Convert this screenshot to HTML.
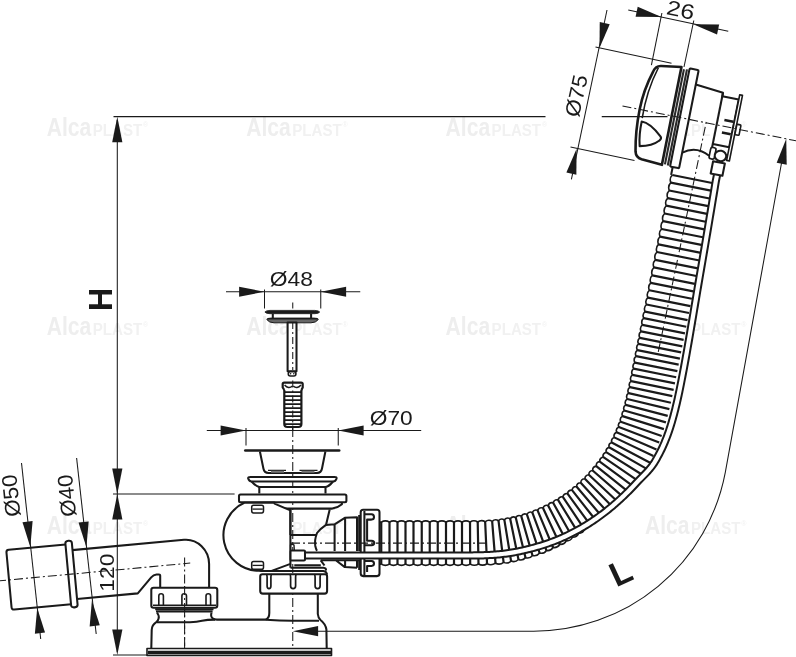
<!DOCTYPE html>
<html><head><meta charset="utf-8"><title>Bath waste drawing</title>
<style>html,body{margin:0;padding:0;background:#fff}svg{display:block;will-change:transform}text{font-family:"Liberation Sans",Arial,Helvetica,sans-serif}</style>
</head><body>
<svg width="796" height="657" viewBox="0 0 796 657" stroke="#1a1a1a" fill="none" stroke-linecap="butt" stroke-linejoin="round">
<rect x="0" y="0" width="796" height="657" fill="#fff" stroke="none"/>
<g stroke="none"><text x="46.8" y="135.9" font-size="25" font-weight="bold" textLength="44.5" lengthAdjust="spacingAndGlyphs" fill="#eeeeee">Alca</text><text x="92.8" y="135.9" font-size="16" textLength="49.5" lengthAdjust="spacingAndGlyphs" fill="#f1f1f1" font-weight="bold">PLAST</text><text x="143.1" y="127.4" font-size="7" fill="#f1f1f1">®</text></g>
<g stroke="none"><text x="246.2" y="135.9" font-size="25" font-weight="bold" textLength="44.5" lengthAdjust="spacingAndGlyphs" fill="#eeeeee">Alca</text><text x="292.2" y="135.9" font-size="16" textLength="49.5" lengthAdjust="spacingAndGlyphs" fill="#f1f1f1" font-weight="bold">PLAST</text><text x="342.5" y="127.4" font-size="7" fill="#f1f1f1">®</text></g>
<g stroke="none"><text x="445.6" y="135.9" font-size="25" font-weight="bold" textLength="44.5" lengthAdjust="spacingAndGlyphs" fill="#eeeeee">Alca</text><text x="491.6" y="135.9" font-size="16" textLength="49.5" lengthAdjust="spacingAndGlyphs" fill="#f1f1f1" font-weight="bold">PLAST</text><text x="541.9" y="127.4" font-size="7" fill="#f1f1f1">®</text></g>
<g stroke="none"><text x="645.0" y="135.9" font-size="25" font-weight="bold" textLength="44.5" lengthAdjust="spacingAndGlyphs" fill="#eeeeee">Alca</text><text x="691.0" y="135.9" font-size="16" textLength="49.5" lengthAdjust="spacingAndGlyphs" fill="#f1f1f1" font-weight="bold">PLAST</text><text x="741.3" y="127.4" font-size="7" fill="#f1f1f1">®</text></g>
<g stroke="none"><text x="46.8" y="335.1" font-size="25" font-weight="bold" textLength="44.5" lengthAdjust="spacingAndGlyphs" fill="#eeeeee">Alca</text><text x="92.8" y="335.1" font-size="16" textLength="49.5" lengthAdjust="spacingAndGlyphs" fill="#f1f1f1" font-weight="bold">PLAST</text><text x="143.1" y="326.6" font-size="7" fill="#f1f1f1">®</text></g>
<g stroke="none"><text x="246.2" y="335.1" font-size="25" font-weight="bold" textLength="44.5" lengthAdjust="spacingAndGlyphs" fill="#eeeeee">Alca</text><text x="292.2" y="335.1" font-size="16" textLength="49.5" lengthAdjust="spacingAndGlyphs" fill="#f1f1f1" font-weight="bold">PLAST</text><text x="342.5" y="326.6" font-size="7" fill="#f1f1f1">®</text></g>
<g stroke="none"><text x="445.6" y="335.1" font-size="25" font-weight="bold" textLength="44.5" lengthAdjust="spacingAndGlyphs" fill="#eeeeee">Alca</text><text x="491.6" y="335.1" font-size="16" textLength="49.5" lengthAdjust="spacingAndGlyphs" fill="#f1f1f1" font-weight="bold">PLAST</text><text x="541.9" y="326.6" font-size="7" fill="#f1f1f1">®</text></g>
<g stroke="none"><text x="645.0" y="335.1" font-size="25" font-weight="bold" textLength="44.5" lengthAdjust="spacingAndGlyphs" fill="#eeeeee">Alca</text><text x="691.0" y="335.1" font-size="16" textLength="49.5" lengthAdjust="spacingAndGlyphs" fill="#f1f1f1" font-weight="bold">PLAST</text><text x="741.3" y="326.6" font-size="7" fill="#f1f1f1">®</text></g>
<g stroke="none"><text x="46.8" y="534.3" font-size="25" font-weight="bold" textLength="44.5" lengthAdjust="spacingAndGlyphs" fill="#eeeeee">Alca</text><text x="92.8" y="534.3" font-size="16" textLength="49.5" lengthAdjust="spacingAndGlyphs" fill="#f1f1f1" font-weight="bold">PLAST</text><text x="143.1" y="525.8" font-size="7" fill="#f1f1f1">®</text></g>
<g stroke="none"><text x="246.2" y="534.3" font-size="25" font-weight="bold" textLength="44.5" lengthAdjust="spacingAndGlyphs" fill="#eeeeee">Alca</text><text x="292.2" y="534.3" font-size="16" textLength="49.5" lengthAdjust="spacingAndGlyphs" fill="#f1f1f1" font-weight="bold">PLAST</text><text x="342.5" y="525.8" font-size="7" fill="#f1f1f1">®</text></g>
<g stroke="none"><text x="445.6" y="534.3" font-size="25" font-weight="bold" textLength="44.5" lengthAdjust="spacingAndGlyphs" fill="#eeeeee">Alca</text><text x="491.6" y="534.3" font-size="16" textLength="49.5" lengthAdjust="spacingAndGlyphs" fill="#f1f1f1" font-weight="bold">PLAST</text><text x="541.9" y="525.8" font-size="7" fill="#f1f1f1">®</text></g>
<g stroke="none"><text x="645.0" y="534.3" font-size="25" font-weight="bold" textLength="44.5" lengthAdjust="spacingAndGlyphs" fill="#eeeeee">Alca</text><text x="691.0" y="534.3" font-size="16" textLength="49.5" lengthAdjust="spacingAndGlyphs" fill="#f1f1f1" font-weight="bold">PLAST</text><text x="741.3" y="525.8" font-size="7" fill="#f1f1f1">®</text></g>
<path d="M372.00,520.50 L374.00,520.50 L376.00,520.50 L378.00,520.50 L380.00,520.50 L382.00,520.50 L384.00,520.50 L386.00,520.50 L388.00,520.50 L390.00,520.50 L392.00,520.50 L394.00,520.50 L396.00,520.50 L398.00,520.50 L400.00,520.50 L402.00,520.50 L404.00,520.50 L406.00,520.50 L408.00,520.50 L410.00,520.50 L412.00,520.50 L414.00,520.50 L416.00,520.50 L418.00,520.50 L420.00,520.50 L422.00,520.50 L424.00,520.50 L426.00,520.50 L428.00,520.50 L430.00,520.50 L432.00,520.50 L434.00,520.50 L436.00,520.50 L438.00,520.50 L440.00,520.50 L442.00,520.50 L444.00,520.50 L446.00,520.50 L448.00,520.50 L450.00,520.50 L452.00,520.50 L454.00,520.50 L456.00,520.50 L458.00,520.50 L460.00,520.50 L462.00,520.50 L463.85,520.50 L465.84,520.50 L467.81,520.50 L469.77,520.49 L471.71,520.48 L473.63,520.47 L475.54,520.44 L477.44,520.41 L479.32,520.37 L481.18,520.32 L483.03,520.26 L484.86,520.19 L486.68,520.10 L488.48,520.00 L490.27,519.88 L492.03,519.75 L493.79,519.60 L495.52,519.43 L497.24,519.24 L498.96,519.03 L500.68,518.80 L502.40,518.55 L504.11,518.28 L505.82,517.99 L507.53,517.68 L509.23,517.35 L510.93,517.00 L512.62,516.63 L514.31,516.24 L516.00,515.83 L517.68,515.40 L519.35,514.95 L521.02,514.48 L522.68,513.99 L524.34,513.48 L525.99,512.95 L527.64,512.40 L529.28,511.84 L530.91,511.25 L532.53,510.64 L534.15,510.02 L535.76,509.37 L537.36,508.71 L538.95,508.03 L540.54,507.33 L542.12,506.61 L543.69,505.87 L545.25,505.11 L546.80,504.33 L548.34,503.54 L549.87,502.73 L551.39,501.90 L552.91,501.05 L554.41,500.19 L555.90,499.30 L557.38,498.40 L558.85,497.48 L560.31,496.55 L561.76,495.59 L563.20,494.62 L564.62,493.64 L566.04,492.63 L567.44,491.61 L568.83,490.58 L570.21,489.52 L571.57,488.45 L572.93,487.37 L574.26,486.27 L575.59,485.15 L576.90,484.02 L578.20,482.87 L579.49,481.71 L580.76,480.53 L582.02,479.33 L583.26,478.13 L584.49,476.90 L585.71,475.67 L586.91,474.41 L588.09,473.15 L589.26,471.87 L590.42,470.57 L591.56,469.27 L592.68,467.95 L593.79,466.61 L594.88,465.27 L595.96,463.91 L597.02,462.54 L598.06,461.15 L599.09,459.75 L600.10,458.35 L601.09,456.93 L602.07,455.49 L603.03,454.05 L603.97,452.59 L604.90,451.13 L605.81,449.65 L606.70,448.16 L607.57,446.67 L608.43,445.16 L609.27,443.64 L610.09,442.11 L610.89,440.57 L611.67,439.03 L612.44,437.47 L613.18,435.91 L613.91,434.33 L614.62,432.75 L615.31,431.16 L615.98,429.56 L616.64,427.95 L617.27,426.33 L617.89,424.70 L618.50,423.05 L619.09,421.38 L619.67,419.71 L620.23,418.01 L620.78,416.31 L621.32,414.59 L621.84,412.86 L622.36,411.12 L622.86,409.36 L623.35,407.60 L623.83,405.82 L624.30,404.03 L624.76,402.23 L625.21,400.42 L625.65,398.60 L626.09,396.76 L626.51,394.92 L626.94,393.07 L627.35,391.21 L627.76,389.33 L628.16,387.45 L628.57,385.56 L628.96,383.66 L629.36,381.75 L629.75,379.83 L630.14,377.90 L630.53,375.96 L630.92,374.02 L631.31,372.07 L631.70,370.11 L632.09,368.14 L632.49,366.18 L632.88,364.22 L633.27,362.26 L633.66,360.30 L634.05,358.34 L634.45,356.38 L634.84,354.42 L635.23,352.45 L635.62,350.49 L636.01,348.53 L636.41,346.57 L636.80,344.61 L637.19,342.65 L637.58,340.69 L637.97,338.73 L638.37,336.76 L638.76,334.80 L639.15,332.84 L639.54,330.88 L639.93,328.92 L640.32,326.96 L640.72,325.00 L641.11,323.04 L641.50,321.08 L641.89,319.11 L642.28,317.15 L642.68,315.19 L643.07,313.23 L643.46,311.27 L643.85,309.31 L644.24,307.35 L644.64,305.39 L645.03,303.42 L645.42,301.46 L645.81,299.50 L646.20,297.54 L646.59,295.58 L646.99,293.62 L647.38,291.66 L647.77,289.70 L648.16,287.73 L648.55,285.77 L648.95,283.81 L649.34,281.85 L649.73,279.89 L650.12,277.93 L650.51,275.97 L650.91,274.01 L651.30,272.04 L651.69,270.08 L652.08,268.12 L652.47,266.16 L652.87,264.20 L653.26,262.24 L653.65,260.28 L654.04,258.32 L654.43,256.35 L654.82,254.39 L655.22,252.43 L655.61,250.47 L656.00,248.51 L656.39,246.55 L656.78,244.59 L657.18,242.63 L657.57,240.66 L657.96,238.70 L658.35,236.74 L658.74,234.78 L659.14,232.82 L659.53,230.86 L659.92,228.90 L660.31,226.94 L660.70,224.97 L661.09,223.01 L661.49,221.05 L661.88,219.09 L662.27,217.13 L662.66,215.17 L663.05,213.21 L663.45,211.25 L663.84,209.28 L664.23,207.32 L664.62,205.36 L665.01,203.40 L665.41,201.44 L665.80,199.48 L666.19,197.52 L666.58,195.56 L666.97,193.60 L667.37,191.63 L667.76,189.67 L668.15,187.71 L668.54,185.75 L668.93,183.79 L669.32,181.83 L669.72,179.87 L670.11,177.91 L670.50,175.94 L670.89,173.98 L671.28,172.02 L715.41,180.84 L715.02,182.80 L714.63,184.76 L714.24,186.72 L713.84,188.68 L713.45,190.65 L713.06,192.61 L712.67,194.57 L712.28,196.53 L711.88,198.49 L711.49,200.45 L711.10,202.41 L710.71,204.37 L710.32,206.34 L709.93,208.30 L709.53,210.26 L709.14,212.22 L708.75,214.18 L708.36,216.14 L707.97,218.10 L707.57,220.06 L707.18,222.03 L706.79,223.99 L706.40,225.95 L706.01,227.91 L705.61,229.87 L705.22,231.83 L704.83,233.79 L704.44,235.75 L704.05,237.71 L703.66,239.68 L703.26,241.64 L702.87,243.60 L702.48,245.56 L702.09,247.52 L701.70,249.48 L701.30,251.44 L700.91,253.40 L700.52,255.37 L700.13,257.33 L699.74,259.29 L699.34,261.25 L698.95,263.21 L698.56,265.17 L698.17,267.13 L697.78,269.09 L697.38,271.06 L696.99,273.02 L696.60,274.98 L696.21,276.94 L695.82,278.90 L695.43,280.86 L695.03,282.82 L694.64,284.78 L694.25,286.75 L693.86,288.71 L693.47,290.67 L693.07,292.63 L692.68,294.59 L692.29,296.55 L691.90,298.51 L691.51,300.47 L691.11,302.44 L690.72,304.40 L690.33,306.36 L689.94,308.32 L689.55,310.28 L689.15,312.24 L688.76,314.20 L688.37,316.16 L687.98,318.13 L687.59,320.09 L687.20,322.05 L686.80,324.01 L686.41,325.97 L686.02,327.93 L685.63,329.89 L685.24,331.85 L684.84,333.82 L684.45,335.78 L684.06,337.74 L683.67,339.70 L683.28,341.66 L682.88,343.62 L682.49,345.58 L682.10,347.54 L681.71,349.50 L681.32,351.47 L680.93,353.43 L680.53,355.39 L680.14,357.35 L679.75,359.31 L679.36,361.27 L678.97,363.23 L678.57,365.19 L678.18,367.16 L677.79,369.12 L677.40,371.08 L677.01,373.04 L676.61,375.00 L676.22,376.96 L675.83,378.92 L675.44,380.89 L675.04,382.85 L674.65,384.83 L674.25,386.82 L673.84,388.81 L673.44,390.81 L673.02,392.82 L672.60,394.83 L672.17,396.85 L671.74,398.88 L671.29,400.91 L670.84,402.96 L670.37,405.00 L669.89,407.06 L669.40,409.12 L668.90,411.18 L668.39,413.25 L667.86,415.33 L667.31,417.41 L666.75,419.49 L666.17,421.58 L665.57,423.67 L664.96,425.76 L664.32,427.86 L663.66,429.96 L662.98,432.06 L662.28,434.17 L661.56,436.27 L660.81,438.38 L660.04,440.48 L659.24,442.58 L658.41,444.69 L657.56,446.78 L656.68,448.87 L655.78,450.95 L654.85,453.02 L653.90,455.08 L652.92,457.12 L651.92,459.15 L650.90,461.18 L649.85,463.18 L648.78,465.18 L647.68,467.16 L646.56,469.14 L645.42,471.09 L644.26,473.04 L643.07,474.97 L641.86,476.88 L640.62,478.78 L639.37,480.67 L638.09,482.54 L636.79,484.40 L635.47,486.24 L634.13,488.06 L632.76,489.87 L631.38,491.66 L629.97,493.44 L628.54,495.20 L627.09,496.94 L625.62,498.67 L624.13,500.38 L622.62,502.07 L621.10,503.74 L619.55,505.39 L617.98,507.03 L616.39,508.64 L614.78,510.24 L613.16,511.82 L611.51,513.38 L609.85,514.92 L608.17,516.44 L606.47,517.94 L604.76,519.42 L603.02,520.88 L601.27,522.32 L599.50,523.74 L597.72,525.13 L595.92,526.51 L594.10,527.86 L592.27,529.20 L590.42,530.51 L588.56,531.80 L586.68,533.06 L584.79,534.31 L582.88,535.53 L580.96,536.73 L579.02,537.91 L577.07,539.06 L575.11,540.19 L573.13,541.30 L571.14,542.39 L569.14,543.45 L567.12,544.48 L565.10,545.50 L563.06,546.48 L561.01,547.45 L558.95,548.39 L556.87,549.31 L554.79,550.20 L552.70,551.06 L550.59,551.91 L548.48,552.72 L546.35,553.51 L544.22,554.28 L542.08,555.02 L539.93,555.74 L537.77,556.43 L535.61,557.09 L533.43,557.73 L531.25,558.35 L529.06,558.93 L526.87,559.50 L524.67,560.03 L522.46,560.54 L520.24,561.03 L518.02,561.48 L515.80,561.91 L513.57,562.32 L511.34,562.70 L509.10,563.05 L506.86,563.38 L504.61,563.67 L502.36,563.95 L500.11,564.19 L497.86,564.41 L495.63,564.60 L493.40,564.77 L491.20,564.92 L489.00,565.04 L486.83,565.14 L484.66,565.23 L482.51,565.30 L480.38,565.36 L478.26,565.41 L476.16,565.44 L474.07,565.46 L471.99,565.48 L469.93,565.49 L467.89,565.50 L465.86,565.50 L463.85,565.50 L462.00,565.50 L460.00,565.50 L458.00,565.50 L456.00,565.50 L454.00,565.50 L452.00,565.50 L450.00,565.50 L448.00,565.50 L446.00,565.50 L444.00,565.50 L442.00,565.50 L440.00,565.50 L438.00,565.50 L436.00,565.50 L434.00,565.50 L432.00,565.50 L430.00,565.50 L428.00,565.50 L426.00,565.50 L424.00,565.50 L422.00,565.50 L420.00,565.50 L418.00,565.50 L416.00,565.50 L414.00,565.50 L412.00,565.50 L410.00,565.50 L408.00,565.50 L406.00,565.50 L404.00,565.50 L402.00,565.50 L400.00,565.50 L398.00,565.50 L396.00,565.50 L394.00,565.50 L392.00,565.50 L390.00,565.50 L388.00,565.50 L386.00,565.50 L384.00,565.50 L382.00,565.50 L380.00,565.50 L378.00,565.50 L376.00,565.50 L374.00,565.50 L372.00,565.50 Z" stroke-width="0" fill="#fff" stroke="none"/>
<path d="M381.25,522.10 L381.25,564.10 M389.50,522.10 L389.50,564.10 M397.50,522.10 L397.50,564.10 M405.50,522.10 L405.50,564.10 M413.50,522.10 L413.50,564.10 M421.75,522.10 L421.75,564.10 M429.75,522.10 L429.75,564.10 M437.75,522.10 L437.75,564.10 M446.00,522.10 L446.00,564.10 M454.00,522.10 L454.00,564.10 M462.00,522.10 L462.00,564.10 M470.02,522.09 L470.18,564.09 M477.71,522.01 L478.50,564.00 M485.16,521.78 L487.04,563.73 M492.16,521.34 L495.51,563.21 M498.51,520.70 L503.60,562.39 M504.37,519.86 L511.08,561.10 M510.19,518.79 L518.48,559.47 M515.74,517.54 L525.54,557.64 M521.25,516.08 L532.51,555.53 M526.90,514.34 L539.65,553.07 M532.28,512.45 L546.41,550.43 M537.58,510.35 L553.07,547.54 M542.99,507.97 L559.84,544.27 M548.11,505.46 L566.23,540.87 M553.12,502.77 L572.47,537.24 M558.03,499.88 L578.57,533.37 M562.83,496.81 L584.50,529.28 M567.50,493.55 L587.89,521.69 M572.05,490.12 L593.77,517.80 M576.46,486.51 L599.53,513.70 M580.73,482.74 L605.17,509.40 M584.85,478.81 L610.69,504.90 M588.82,474.72 L616.09,500.22 M592.62,470.48 L621.37,495.36 M596.26,466.10 L626.54,490.33 M599.73,461.58 L631.60,485.13 M603.03,456.93 L636.60,479.81 M606.14,452.16 L641.83,474.53 M609.07,447.28 L646.70,468.89 M611.70,442.47 L650.11,462.68 M614.26,437.38 L653.41,456.10 M616.61,432.19 L656.45,449.39 M618.76,426.91 L659.24,442.58 M620.68,421.70 L661.65,436.01 M622.51,416.15 L663.91,429.17 M624.21,410.46 L665.95,422.36 M625.73,404.88 L667.72,415.85 M627.21,398.97 L669.40,409.12 M628.55,393.19 L670.89,402.70 M629.88,387.07 L672.33,396.09 M631.12,381.11 L673.64,389.81 M632.39,374.82 L674.95,383.35 M633.61,368.70 L676.17,377.21 M634.84,362.57 L677.40,371.08 M636.11,356.20 L678.67,364.70 M637.34,350.07 L679.90,358.58 M638.56,343.94 L681.12,352.45 M639.79,337.81 L682.35,346.32 M641.06,331.44 L683.62,339.94 M642.38,324.82 L684.94,333.32 M643.71,318.20 L686.26,326.71 M645.03,311.58 L687.59,320.09 M646.45,304.47 L689.01,312.98 M647.82,297.61 L690.38,306.11 M649.29,290.25 L691.85,298.76 M650.76,282.90 L693.32,291.40 M652.28,275.30 L694.84,283.80 M653.85,267.45 L696.40,275.96 M655.36,259.85 L697.92,268.36 M656.93,252.01 L699.49,260.51 M658.45,244.41 L701.01,252.91 M660.02,236.57 L702.58,245.07 M661.54,228.97 L704.10,237.47 M663.10,221.12 L705.66,229.62 M664.62,213.52 L706.96,221.98 M666.19,205.68 L708.28,214.09 M667.71,198.08 L709.57,206.44 M669.23,190.48 L710.84,198.79 M670.80,182.63 L712.16,190.90 M672.31,175.03 L713.43,183.25" stroke-width="2.2" fill="none" />
<path d="M381.25,522.10 Q385.38,519.60 389.50,522.10 Q393.50,519.60 397.50,522.10 Q401.50,519.60 405.50,522.10 Q409.50,519.60 413.50,522.10 Q417.62,519.60 421.75,522.10 Q425.75,519.60 429.75,522.10 Q433.75,519.60 437.75,522.10 Q441.88,519.60 446.00,522.10 Q450.00,519.60 454.00,522.10 Q458.00,519.60 462.00,522.10 Q466.00,519.60 470.02,522.09 Q473.83,519.55 477.71,522.01 Q481.36,519.39 485.16,521.78 Q488.51,519.06 492.16,521.34 Q495.09,518.53 498.51,520.70 Q501.09,517.80 504.37,519.86 Q506.83,516.87 510.19,518.79 Q512.42,515.73 515.74,517.54 Q517.86,514.39 521.25,516.08 Q523.34,512.82 526.90,514.34 Q528.76,511.03 532.28,512.45 Q534.01,509.08 537.58,510.35 Q539.27,506.87 542.99,507.97 Q544.45,504.47 548.11,505.46 Q549.43,501.91 553.12,502.77 Q554.31,499.17 558.03,499.88 Q559.08,496.24 562.83,496.81 Q563.74,493.13 567.50,493.55 Q568.27,489.84 572.05,490.12 Q572.67,486.38 576.46,486.51 Q576.94,482.75 580.73,482.74 Q581.06,478.96 584.85,478.81 Q585.04,475.02 588.82,474.72 Q588.86,470.93 592.62,470.48 Q592.52,466.69 596.26,466.10 Q596.02,462.32 599.73,461.58 Q599.34,457.81 603.03,456.93 Q602.49,453.18 606.14,452.16 Q605.46,448.43 609.07,447.28 Q608.20,443.67 611.70,442.47 Q610.74,438.81 614.26,437.38 Q613.16,433.75 616.61,432.19 Q615.37,428.61 618.76,426.91 Q617.37,423.45 620.68,421.70 Q619.22,418.14 622.51,416.15 Q620.97,412.59 624.21,410.46 Q622.56,407.02 625.73,404.88 Q624.04,401.32 627.21,398.97 Q625.44,395.51 628.55,393.19 Q626.77,389.60 629.88,387.07 Q628.05,383.58 631.12,381.11 Q629.31,377.47 632.39,374.82 Q630.55,371.27 633.61,368.70 Q631.78,365.15 634.84,362.57 Q633.02,358.90 636.11,356.20 Q634.27,352.65 637.34,350.07 Q635.50,346.52 638.56,343.94 Q636.72,340.39 639.79,337.81 Q637.97,334.14 641.06,331.44 Q639.27,327.64 642.38,324.82 Q640.59,321.02 643.71,318.20 Q641.92,314.40 645.03,311.58 Q643.29,307.54 646.45,304.47 Q644.68,300.55 647.82,297.61 Q646.10,293.44 649.29,290.25 Q647.57,286.09 650.76,282.90 Q649.07,278.61 652.28,275.30 Q650.61,270.89 653.85,267.45 Q652.15,263.16 655.36,259.85 Q653.70,255.44 656.93,252.01 Q655.24,247.72 658.45,244.41 Q656.78,240.00 660.02,236.57 Q658.33,232.28 661.54,228.97 Q659.87,224.55 663.10,221.12 Q661.41,216.83 664.62,213.52 Q662.96,209.11 666.19,205.68 Q664.50,201.39 667.71,198.08 Q666.02,193.79 669.23,190.48 Q667.56,186.06 670.80,182.63 Q669.10,178.34 672.31,175.03" stroke-width="1.6" fill="none" />
<path d="M381.25,564.10 Q385.38,566.60 389.50,564.10 Q393.50,566.60 397.50,564.10 Q401.50,566.60 405.50,564.10 Q409.50,566.60 413.50,564.10 Q417.62,566.60 421.75,564.10 Q425.75,566.60 429.75,564.10 Q433.75,566.60 437.75,564.10 Q441.88,566.60 446.00,564.10 Q450.00,566.60 454.00,564.10 Q458.00,566.60 462.00,564.10 Q466.10,566.60 470.18,564.09 Q474.37,566.55 478.50,564.00 Q482.84,566.37 487.04,563.73 Q491.43,565.97 495.51,563.21 Q499.81,565.29 503.60,562.39 Q507.76,564.21 511.08,561.10 Q515.31,562.73 518.48,559.47 Q522.64,560.97 525.54,557.64 Q529.75,558.98 532.51,555.53 Q536.89,556.66 539.65,553.07 Q543.94,554.08 546.41,550.43 Q550.74,551.27 553.07,547.54 Q557.54,548.15 559.84,544.27 Q564.21,544.78 566.23,540.87 Q570.61,541.22 572.47,537.24 Q576.86,537.42 578.57,533.37 Q582.95,533.38 584.50,529.28" stroke-width="1.6" fill="none" />
<path d="M379.5,522.10 L381.25,522.10 M379.5,564.10 L381.25,564.10" stroke-width="1.6" fill="none" />
<line x1="658.27" y1="351.96" x2="707.50" y2="116.00" stroke-width="1.05" stroke-dasharray="9 3 2 3"/>
<path d="M316,631.2 L533.7,631.2 A195,195 0 0 0 725.31,472.40 L781.75,161.75" stroke-width="1.05" fill="none" />
<polygon points="292.75,631.20 318.15,626.10 318.15,636.30" fill="#1a1a1a" stroke="none"/>
<polygon points="786.25,138.75 786.70,164.65 776.67,162.82" fill="#1a1a1a" stroke="none"/>
<text transform="translate(616.30 587.60) rotate(-25) scale(1.0000 1)" x="0.00" y="0" font-size="34" text-anchor="start" font-weight="bold" fill="#1a1a1a" stroke="none" >L</text>
<line x1="113.50" y1="116.60" x2="545.50" y2="116.60" stroke-width="1.05" />
<line x1="117.30" y1="120.00" x2="117.30" y2="652.00" stroke-width="1.05" />
<polygon points="117.30,116.80 122.40,142.20 112.20,142.20" fill="#1a1a1a" stroke="none"/>
<polygon points="117.30,494.00 112.20,468.60 122.40,468.60" fill="#1a1a1a" stroke="none"/>
<polygon points="117.30,494.00 122.40,519.40 112.20,519.40" fill="#1a1a1a" stroke="none"/>
<polygon points="117.30,655.00 112.20,629.60 122.40,629.60" fill="#1a1a1a" stroke="none"/>
<line x1="113.00" y1="494.00" x2="234.60" y2="494.00" stroke-width="1.05" />
<line x1="113.00" y1="655.00" x2="147.00" y2="655.00" stroke-width="1.05" />
<text transform="translate(112.10 299.50) rotate(-90) scale(0.9600 1)" x="-0.02" y="0" font-size="34" text-anchor="middle" font-weight="bold" fill="#1a1a1a" stroke="none" >H</text>
<text transform="translate(113.80 572.20) rotate(-90) scale(1.1094 1)" x="-0.42" y="0" font-size="20.6" text-anchor="middle" font-weight="normal" fill="#1a1a1a" stroke="none" >120</text>
<line x1="226.00" y1="291.75" x2="360.25" y2="291.75" stroke-width="1.05" />
<polygon points="264.50,291.75 239.10,296.85 239.10,286.65" fill="#1a1a1a" stroke="none"/>
<polygon points="320.75,291.75 346.15,286.65 346.15,296.85" fill="#1a1a1a" stroke="none"/>
<line x1="264.50" y1="289.50" x2="264.50" y2="308.50" stroke-width="1.05" />
<line x1="320.75" y1="289.50" x2="320.75" y2="308.50" stroke-width="1.05" />
<text transform="translate(291.20 285.75) rotate(0) scale(1.0868 1)" x="0.05" y="0" font-size="21" text-anchor="middle" font-weight="normal" fill="#1a1a1a" stroke="none" >Ø48</text>
<line x1="206.80" y1="430.50" x2="421.20" y2="430.50" stroke-width="1.05" />
<polygon points="246.00,430.50 220.60,435.60 220.60,425.40" fill="#1a1a1a" stroke="none"/>
<polygon points="338.25,430.50 363.65,425.40 363.65,435.60" fill="#1a1a1a" stroke="none"/>
<line x1="246.00" y1="428.00" x2="246.00" y2="445.50" stroke-width="1.05" />
<line x1="338.25" y1="428.00" x2="338.25" y2="445.50" stroke-width="1.05" />
<text transform="translate(391.20 424.60) rotate(0) scale(1.0840 1)" x="-0.00" y="0" font-size="21" text-anchor="middle" font-weight="normal" fill="#1a1a1a" stroke="none" >Ø70</text>
<line x1="292.75" y1="302.50" x2="292.75" y2="308.50" stroke-width="1.05" />
<line x1="292.75" y1="322.00" x2="292.75" y2="370.00" stroke-width="1.05" stroke-dasharray="7 3 2 3"/>
<line x1="292.75" y1="392.00" x2="292.75" y2="424.00" stroke-width="1.05" stroke-dasharray="7 3 2 3"/>
<line x1="292.75" y1="428.00" x2="292.75" y2="655.00" stroke-width="1.05" stroke-dasharray="9 3 2 3"/>
<path d="M264.9,312 Q266,310.4 270,310.4 L314.7,310.4 Q318.7,310.4 319.7,312 Q318.7,313.7 314.7,313.7 L270,313.7 Q266,313.7 264.9,312 Z" stroke-width="0.8" fill="#1a1a1a" />
<path d="M272.8,313.7 L272.8,318.3 M311.1,313.7 L311.1,318.3" stroke-width="2.05" fill="none" />
<path d="M266.7,319.4 Q268,318.1 271,318.1 L314,318.1 Q317.5,318.1 318.4,319.4 Q316,322.8 311,322.8 L274,322.8 Q269,322.8 266.7,319.4 Z" stroke-width="1.0" fill="#666" />
<line x1="267.50" y1="318.80" x2="317.60" y2="318.80" stroke-width="1.6" />
<rect x="287.6" y="322.5" width="8.9" height="48.8" stroke-width="2.05" fill="#fff"/>
<rect x="288.3" y="371.6" width="7.6" height="4.4" rx="2" stroke-width="1.6" fill="#fff"/>
<circle cx="290.6" cy="373.8" r="0.8" fill="#1a1a1a" stroke="none"/><circle cx="293.8" cy="373.8" r="0.8" fill="#1a1a1a" stroke="none"/>
<line x1="292.75" y1="322.00" x2="292.75" y2="370.00" stroke-width="1.05" stroke-dasharray="7 3 2 3"/>
<path d="M284.3,389.5 L284.3,424 Q284.3,427 287.3,427 L298.4,427 Q301.4,427 301.4,424 L301.4,389.5" stroke-width="2.2" fill="#fff" />
<path d="M284.3,390 L282.7,387.5 L282.7,384 Q282.7,382.6 284.2,382.6 L301.2,382.6 Q302.7,382.6 302.7,384 L302.7,387.5 L301.4,390" stroke-width="2.2" fill="#fff" />
<path d="M284.6,385 Q288.5,389.5 292.5,386 M293.2,386 Q297,389.5 301,385" stroke-width="1.5" fill="none" />
<path d="M284.3,392.20 L301.4,392.20 M284.3,396.20 L301.4,396.20 M284.3,400.20 L301.4,400.20 M284.3,404.20 L301.4,404.20 M284.3,408.20 L301.4,408.20 M284.3,412.20 L301.4,412.20 M284.3,416.20 L301.4,416.20 M284.3,420.20 L301.4,420.20 M284.3,424.20 L301.4,424.20" stroke-width="1.7" fill="none" />
<line x1="292.75" y1="380.50" x2="292.75" y2="430.00" stroke-width="1.05" stroke-dasharray="7 3 2 3"/>
<line x1="245.30" y1="450.50" x2="339.20" y2="450.50" stroke-width="2.6" stroke-linecap="round"/>
<path d="M259.9,451.5 L263.4,468.5 Q264.2,472.9 268.5,472.9 L317,472.9 Q321.2,472.9 322,468.5 L325.4,451.5" stroke-width="2.05" fill="none" />
<path d="M268,470.3 L286,470.3 M299.5,470.3 L317.5,470.3" stroke-width="1.2" fill="none" />
<path d="M271,471.7 L284,471.7 M301.5,471.7 L314.5,471.7" stroke-width="2.0" fill="none" stroke="#777"/>
<path d="M250.5,476.9 L334.5,476.9 Q337,476.9 336.5,478.6 Q335.5,481.5 333,481.5 L251.6,481.5 Q249,481.5 248.2,478.6 Q247.8,476.9 250.5,476.9 Z" stroke-width="2.05" fill="#fff" />
<path d="M251.6,481.5 Q256,486.5 259.3,487 L325.5,487 Q329,486.5 333,481.5" stroke-width="2.05" fill="none" />
<path d="M259.3,487 L259.3,493.6 M325.5,487 L325.5,493.6" stroke-width="2.05" fill="none" />
<rect x="239" y="494.4" width="107.4" height="7.8" rx="1.5" stroke-width="2.05" fill="#fff"/>
<path d="M285,508.6 L332.3,508.6 Q338,507.6 341.9,504.2 L341.9,502.4" stroke-width="2.05" fill="none" />
<path d="M244.3,502.8 A35.6,35.6 0 0 0 259.0,570.8 L261,570.9 L271.6,570.9 L290.4,563.9 L290.4,510.4 L274.5,503.6 L274.5,502.6 Z" stroke-width="2.05" fill="#fff" />
<rect x="251.7" y="505.3" width="11.8" height="7.6" rx="1.8" stroke-width="1.5" fill="#fff"/>
<line x1="252.50" y1="509.10" x2="262.80" y2="509.10" stroke-width="1.3" />
<rect x="251.7" y="561.6" width="11.8" height="7.6" rx="1.8" stroke-width="1.5" fill="#fff"/>
<line x1="252.50" y1="565.40" x2="262.80" y2="565.40" stroke-width="1.3" />
<path d="M290.4,509 L290.4,535 M329.7,509.5 L326,524.9 Q320,529 317,533 Q314.3,540 315.3,546 Q316,549.5 317,550.8 M290.4,535 L315.8,535" stroke-width="2.05" fill="none" />
<path d="M326,524.9 L334.6,524.3 L344.8,517.8 L357,517.3 L357,520 M334.6,524.3 L334.6,551 M345.1,517.8 L345.1,551 M357,517.3 L357,551 M359.2,515 L359.2,551" stroke-width="2.05" fill="none" />
<path d="M320.7,560.3 L335.8,560.3 L344.8,567.1 L357,567.8 M345.1,560.3 L345.1,567.1 M357,560.3 L357,567.8 M359.2,560.3 L359.2,570 M335.8,560.3 L360,560.3" stroke-width="2.05" fill="none" />
<rect x="360.7" y="509.8" width="18.8" height="66.3" rx="2.5" stroke-width="2.05" fill="#fff"/>
<path d="M364.4,514.3 L371.5,514.3 Q374,514.5 374,517 Q374,519.5 371.5,519.6 L367.1,519.6 L367.1,540.7 L371.5,540.7 Q374.3,541 374.3,543 Q374.3,545 371.5,545.2 L364.4,545.2" stroke-width="2.05" fill="none" />
<path d="M364.4,561 L371.5,561 Q374,561.2 374,563.5 Q374,565.7 371.5,565.9 L367.1,565.9 L367.1,572 M364.4,511 L364.4,575" stroke-width="2.05" fill="none" />
<rect x="290.5" y="550.5" width="14.5" height="9.9" rx="1" stroke-width="2.05" fill="#fff"/>
<path d="M290.5,550.5 L290.5,545 Q292,543.5 294,545 L294.3,550.5" stroke-width="1.4" fill="none" />
<path d="M290.4,563.9 L290.4,567.7 M294.3,565.2 L320.8,565.2 M290.5,567.7 L323.5,567.7 Q326.3,568 326,570.5 M261,570.9 L323.3,570.9 Q326.5,571.2 327.1,574.5 M320.7,560.3 L324.5,565.5" stroke-width="2.05" fill="none" />
<path d="M263,593.6 Q260.2,593.6 260.2,591 L260.2,576.5 Q260.2,574.3 262.5,574.3 L325,574.3 Q327.1,574.3 327.1,576.5 L327.1,591 Q327.1,593.6 324.5,593.6 Z" stroke-width="2.05" fill="#fff" />
<path d="M266.3,574.6 Q267.1,575 267.1,577 L267.1,586 Q267.1,588.6 269.0,588.6 Q270.90000000000003,588.6 270.90000000000003,586 L270.90000000000003,577 Q270.90000000000003,575 271.70000000000005,574.6" stroke-width="1.7" fill="none" />
<path d="M289.8,574.6 Q290.6,575 290.6,577 L290.6,586 Q290.6,588.6 293.1,588.6 Q295.6,588.6 295.6,586 L295.6,577 Q295.6,575 296.40000000000003,574.6" stroke-width="1.7" fill="none" />
<path d="M314.3,574.6 Q315.1,575 315.1,577 L315.1,586 Q315.1,588.6 317.6,588.6 Q320.1,588.6 320.1,586 L320.1,577 Q320.1,575 320.90000000000003,574.6" stroke-width="1.7" fill="none" />
<path d="M269.3,593.6 L269.3,613 Q269.3,618 265.9,619.6 M317.8,593.6 L317.8,614 Q318.2,618 320.5,620 Q325.6,624 326.4,629.5 L326.7,648.3" stroke-width="2.05" fill="none" />
<path d="M265.9,619.7 Q280,620.6 292,620.7 L319,620.7" stroke-width="2.05" fill="none" />
<path d="M306.00,555.50 L372.00,555.50 L373.50,555.50 L375.00,555.50 L376.50,555.50 L378.00,555.50 L379.50,555.50 L381.00,555.50 L382.50,555.50 L384.00,555.50 L385.50,555.50 L387.00,555.50 L388.50,555.50 L390.00,555.50 L391.50,555.50 L393.00,555.50 L394.50,555.50 L396.00,555.50 L397.50,555.50 L399.00,555.50 L400.50,555.50 L402.00,555.50 L403.50,555.50 L405.00,555.50 L406.50,555.50 L408.00,555.50 L409.50,555.50 L411.00,555.50 L412.50,555.50 L414.00,555.50 L415.50,555.50 L417.00,555.50 L418.50,555.50 L420.00,555.50 L421.50,555.50 L423.00,555.50 L424.50,555.50 L426.00,555.50 L427.50,555.50 L429.00,555.50 L430.50,555.50 L432.00,555.50 L433.50,555.50 L435.00,555.50 L436.50,555.50 L438.00,555.50 L439.50,555.50 L441.00,555.50 L442.50,555.50 L444.00,555.50 L445.50,555.50 L447.00,555.50 L448.50,555.50 L450.00,555.50 L451.50,555.50 L453.00,555.50 L454.50,555.50 L456.00,555.50 L457.50,555.50 L459.00,555.50 L460.50,555.50 L462.00,555.50 L463.35,555.50 L464.85,555.50 L466.36,555.50 L467.87,555.50 L469.39,555.49 L470.91,555.49 L472.44,555.48 L473.97,555.46 L475.51,555.45 L477.05,555.42 L478.59,555.40 L480.14,555.36 L481.70,555.32 L483.26,555.28 L484.82,555.22 L486.39,555.16 L487.96,555.09 L489.54,555.01 L491.12,554.92 L492.71,554.82 L494.30,554.71 L495.89,554.59 L497.49,554.45 L499.09,554.31 L500.70,554.14 L502.30,553.97 L503.90,553.78 L505.50,553.58 L507.10,553.36 L508.69,553.13 L510.28,552.89 L511.88,552.63 L513.47,552.36 L515.05,552.07 L516.64,551.78 L518.22,551.46 L519.80,551.14 L521.38,550.80 L522.95,550.45 L524.52,550.08 L526.09,549.70 L527.66,549.32 L529.23,548.93 L530.79,548.52 L532.35,548.11 L533.91,547.69 L535.47,547.26 L537.03,546.82 L538.58,546.37 L540.13,545.90 L541.68,545.43 L543.22,544.94 L544.76,544.44 L546.30,543.93 L547.84,543.41 L549.37,542.87 L550.89,542.32 L552.42,541.76 L553.93,541.18 L555.45,540.58 L556.95,539.98 L558.46,539.35 L559.95,538.72 L561.45,538.07 L562.94,537.41 L564.42,536.74 L565.90,536.06 L567.37,535.36 L568.84,534.65 L570.31,533.93 L571.76,533.20 L573.22,532.45 L574.67,531.69 L576.11,530.92 L577.54,530.14 L578.98,529.35 L580.40,528.54 L581.82,527.73 L583.23,526.90 L584.64,526.05 L586.04,525.20 L587.44,524.34 L588.83,523.46 L590.21,522.57 L591.59,521.67 L592.96,520.76 L594.32,519.84 L595.68,518.91 L597.03,517.96 L598.38,517.01 L599.72,516.04 L601.05,515.06 L602.37,514.07 L603.69,513.08 L605.00,512.06 L606.31,511.04 L607.61,510.01 L608.90,508.97 L610.18,507.92 L611.46,506.86 L612.73,505.78 L614.00,504.70 L615.26,503.61 L616.51,502.51 L617.76,501.40 L619.00,500.28 L620.23,499.15 L621.46,498.01 L622.68,496.86 L623.90,495.71 L625.11,494.54 L626.31,493.36 L627.50,492.18 L628.70,490.98 L629.88,489.78 L631.06,488.57 L632.23,487.35 L633.40,486.12 L634.56,484.88 L635.71,483.63 L636.88,482.38 L638.06,481.15 L639.26,479.91 L640.47,478.68 L641.69,477.45 L642.92,476.21 L644.14,474.96 L645.35,473.70 L646.56,472.43 L647.74,471.14 L648.90,469.82 L650.04,468.49 L651.14,467.12 L652.20,465.73 L653.21,464.31 L654.18,462.86 L655.08,461.38 L655.96,459.88 L656.82,458.37 L657.67,456.85 L658.50,455.32 L659.31,453.78 L660.10,452.23 L660.88,450.67 L661.64,449.10 L662.38,447.52 L663.10,445.94 L663.80,444.35 L664.49,442.76 L665.15,441.17 L665.80,439.57 L666.43,437.98 L667.04,436.38 L667.63,434.78 L668.21,433.19 L668.77,431.59 L669.31,429.99 L669.84,428.39 L670.35,426.80 L670.85,425.20 L671.33,423.61 L671.81,422.02 L672.27,420.43 L672.72,418.85 L673.16,417.27 L673.59,415.69 L674.02,414.11 L674.43,412.54 L674.83,410.98 L675.23,409.41 L675.61,407.85 L675.99,406.30 L676.36,404.75 L676.73,403.20 L677.09,401.66 L677.44,400.12 L677.78,398.58 L678.12,397.05 L678.45,395.53 L678.77,394.01 L679.10,392.50 L679.41,390.99 L679.72,389.48 L680.03,387.98 L680.33,386.49 L680.63,385.00 L680.93,383.52 L681.22,382.04 L681.51,380.57 L681.79,379.10 L682.08,377.62 L682.36,376.15 L682.65,374.68 L682.93,373.20 L683.21,371.73 L683.49,370.26 L683.76,368.78 L684.04,367.31 L684.31,365.83 L684.59,364.36 L684.86,362.88 L685.13,361.41 L685.40,359.93 L685.67,358.45 L685.93,356.98 L686.20,355.50 L686.46,354.02 L686.73,352.55 L686.99,351.07 L687.25,349.59 L687.51,348.12 L687.77,346.64 L688.03,345.16 L688.29,343.68 L688.55,342.20 L688.81,340.73 L689.06,339.25 L689.32,337.77 L689.57,336.29 L689.83,334.81 L690.08,333.33 L690.33,331.85 L690.59,330.37 L690.84,328.89 L691.09,327.41 L691.34,325.94 L691.59,324.46 L691.84,322.98 L692.09,321.50 L692.34,320.02 L692.59,318.54 L692.84,317.06 L693.09,315.58 L693.34,314.10 L693.59,312.62 L693.83,311.14 L694.08,309.66 L694.33,308.18 L694.58,306.70 L694.83,305.22 L695.08,303.74 L695.32,302.26 L695.57,300.78 L695.82,299.30 L696.07,297.82 L696.32,296.34 L696.57,294.86 L696.82,293.38 L697.07,291.90 L697.32,290.42 L697.57,288.94 L697.82,287.46 L698.07,285.98 L698.32,284.50 L698.57,283.02 L698.82,281.54 L699.08,280.06 L699.33,278.58 L699.59,277.10 L699.84,275.63 L700.10,274.15 L700.35,272.67 L700.61,271.19 L700.86,269.71 L701.12,268.23 L701.37,266.75 L701.62,265.27 L701.88,263.80 L702.13,262.32 L702.39,260.84 L702.64,259.36 L702.89,257.88 L703.14,256.40 L703.40,254.92 L703.65,253.44 L703.90,251.96 L704.16,250.48 L704.41,249.00 L704.66,247.53 L704.91,246.05 L705.16,244.57 L705.41,243.09 L705.67,241.61 L705.92,240.13 L706.17,238.65 L706.42,237.17 L706.67,235.69 L706.92,234.21 L707.17,232.73 L707.42,231.25 L707.67,229.77 L707.92,228.29 L708.17,226.81 L708.42,225.33 L708.67,223.85 L708.92,222.37 L709.17,220.89 L709.42,219.41 L709.67,217.93 L709.91,216.45 L710.16,214.97 L710.41,213.49 L710.66,212.01 L710.91,210.53 L711.16,209.05 L711.40,207.57 L711.65,206.09 L711.90,204.61 L712.15,203.13 L712.39,201.65 L712.64,200.17 L712.89,198.69 L713.13,197.21 L713.38,195.73 L713.63,194.25 L713.87,192.77 L714.12,191.29 L714.37,189.81 L714.61,188.33 L714.86,186.85 L715.10,185.37 L715.35,183.89 L715.60,182.41 L715.84,180.93 L717.31,173.57" stroke-width="8.2" fill="none" stroke="#1a1a1a"/>
<path d="M306.00,555.50 L372.00,555.50 L373.50,555.50 L375.00,555.50 L376.50,555.50 L378.00,555.50 L379.50,555.50 L381.00,555.50 L382.50,555.50 L384.00,555.50 L385.50,555.50 L387.00,555.50 L388.50,555.50 L390.00,555.50 L391.50,555.50 L393.00,555.50 L394.50,555.50 L396.00,555.50 L397.50,555.50 L399.00,555.50 L400.50,555.50 L402.00,555.50 L403.50,555.50 L405.00,555.50 L406.50,555.50 L408.00,555.50 L409.50,555.50 L411.00,555.50 L412.50,555.50 L414.00,555.50 L415.50,555.50 L417.00,555.50 L418.50,555.50 L420.00,555.50 L421.50,555.50 L423.00,555.50 L424.50,555.50 L426.00,555.50 L427.50,555.50 L429.00,555.50 L430.50,555.50 L432.00,555.50 L433.50,555.50 L435.00,555.50 L436.50,555.50 L438.00,555.50 L439.50,555.50 L441.00,555.50 L442.50,555.50 L444.00,555.50 L445.50,555.50 L447.00,555.50 L448.50,555.50 L450.00,555.50 L451.50,555.50 L453.00,555.50 L454.50,555.50 L456.00,555.50 L457.50,555.50 L459.00,555.50 L460.50,555.50 L462.00,555.50 L463.35,555.50 L464.85,555.50 L466.36,555.50 L467.87,555.50 L469.39,555.49 L470.91,555.49 L472.44,555.48 L473.97,555.46 L475.51,555.45 L477.05,555.42 L478.59,555.40 L480.14,555.36 L481.70,555.32 L483.26,555.28 L484.82,555.22 L486.39,555.16 L487.96,555.09 L489.54,555.01 L491.12,554.92 L492.71,554.82 L494.30,554.71 L495.89,554.59 L497.49,554.45 L499.09,554.31 L500.70,554.14 L502.30,553.97 L503.90,553.78 L505.50,553.58 L507.10,553.36 L508.69,553.13 L510.28,552.89 L511.88,552.63 L513.47,552.36 L515.05,552.07 L516.64,551.78 L518.22,551.46 L519.80,551.14 L521.38,550.80 L522.95,550.45 L524.52,550.08 L526.09,549.70 L527.66,549.32 L529.23,548.93 L530.79,548.52 L532.35,548.11 L533.91,547.69 L535.47,547.26 L537.03,546.82 L538.58,546.37 L540.13,545.90 L541.68,545.43 L543.22,544.94 L544.76,544.44 L546.30,543.93 L547.84,543.41 L549.37,542.87 L550.89,542.32 L552.42,541.76 L553.93,541.18 L555.45,540.58 L556.95,539.98 L558.46,539.35 L559.95,538.72 L561.45,538.07 L562.94,537.41 L564.42,536.74 L565.90,536.06 L567.37,535.36 L568.84,534.65 L570.31,533.93 L571.76,533.20 L573.22,532.45 L574.67,531.69 L576.11,530.92 L577.54,530.14 L578.98,529.35 L580.40,528.54 L581.82,527.73 L583.23,526.90 L584.64,526.05 L586.04,525.20 L587.44,524.34 L588.83,523.46 L590.21,522.57 L591.59,521.67 L592.96,520.76 L594.32,519.84 L595.68,518.91 L597.03,517.96 L598.38,517.01 L599.72,516.04 L601.05,515.06 L602.37,514.07 L603.69,513.08 L605.00,512.06 L606.31,511.04 L607.61,510.01 L608.90,508.97 L610.18,507.92 L611.46,506.86 L612.73,505.78 L614.00,504.70 L615.26,503.61 L616.51,502.51 L617.76,501.40 L619.00,500.28 L620.23,499.15 L621.46,498.01 L622.68,496.86 L623.90,495.71 L625.11,494.54 L626.31,493.36 L627.50,492.18 L628.70,490.98 L629.88,489.78 L631.06,488.57 L632.23,487.35 L633.40,486.12 L634.56,484.88 L635.71,483.63 L636.88,482.38 L638.06,481.15 L639.26,479.91 L640.47,478.68 L641.69,477.45 L642.92,476.21 L644.14,474.96 L645.35,473.70 L646.56,472.43 L647.74,471.14 L648.90,469.82 L650.04,468.49 L651.14,467.12 L652.20,465.73 L653.21,464.31 L654.18,462.86 L655.08,461.38 L655.96,459.88 L656.82,458.37 L657.67,456.85 L658.50,455.32 L659.31,453.78 L660.10,452.23 L660.88,450.67 L661.64,449.10 L662.38,447.52 L663.10,445.94 L663.80,444.35 L664.49,442.76 L665.15,441.17 L665.80,439.57 L666.43,437.98 L667.04,436.38 L667.63,434.78 L668.21,433.19 L668.77,431.59 L669.31,429.99 L669.84,428.39 L670.35,426.80 L670.85,425.20 L671.33,423.61 L671.81,422.02 L672.27,420.43 L672.72,418.85 L673.16,417.27 L673.59,415.69 L674.02,414.11 L674.43,412.54 L674.83,410.98 L675.23,409.41 L675.61,407.85 L675.99,406.30 L676.36,404.75 L676.73,403.20 L677.09,401.66 L677.44,400.12 L677.78,398.58 L678.12,397.05 L678.45,395.53 L678.77,394.01 L679.10,392.50 L679.41,390.99 L679.72,389.48 L680.03,387.98 L680.33,386.49 L680.63,385.00 L680.93,383.52 L681.22,382.04 L681.51,380.57 L681.79,379.10 L682.08,377.62 L682.36,376.15 L682.65,374.68 L682.93,373.20 L683.21,371.73 L683.49,370.26 L683.76,368.78 L684.04,367.31 L684.31,365.83 L684.59,364.36 L684.86,362.88 L685.13,361.41 L685.40,359.93 L685.67,358.45 L685.93,356.98 L686.20,355.50 L686.46,354.02 L686.73,352.55 L686.99,351.07 L687.25,349.59 L687.51,348.12 L687.77,346.64 L688.03,345.16 L688.29,343.68 L688.55,342.20 L688.81,340.73 L689.06,339.25 L689.32,337.77 L689.57,336.29 L689.83,334.81 L690.08,333.33 L690.33,331.85 L690.59,330.37 L690.84,328.89 L691.09,327.41 L691.34,325.94 L691.59,324.46 L691.84,322.98 L692.09,321.50 L692.34,320.02 L692.59,318.54 L692.84,317.06 L693.09,315.58 L693.34,314.10 L693.59,312.62 L693.83,311.14 L694.08,309.66 L694.33,308.18 L694.58,306.70 L694.83,305.22 L695.08,303.74 L695.32,302.26 L695.57,300.78 L695.82,299.30 L696.07,297.82 L696.32,296.34 L696.57,294.86 L696.82,293.38 L697.07,291.90 L697.32,290.42 L697.57,288.94 L697.82,287.46 L698.07,285.98 L698.32,284.50 L698.57,283.02 L698.82,281.54 L699.08,280.06 L699.33,278.58 L699.59,277.10 L699.84,275.63 L700.10,274.15 L700.35,272.67 L700.61,271.19 L700.86,269.71 L701.12,268.23 L701.37,266.75 L701.62,265.27 L701.88,263.80 L702.13,262.32 L702.39,260.84 L702.64,259.36 L702.89,257.88 L703.14,256.40 L703.40,254.92 L703.65,253.44 L703.90,251.96 L704.16,250.48 L704.41,249.00 L704.66,247.53 L704.91,246.05 L705.16,244.57 L705.41,243.09 L705.67,241.61 L705.92,240.13 L706.17,238.65 L706.42,237.17 L706.67,235.69 L706.92,234.21 L707.17,232.73 L707.42,231.25 L707.67,229.77 L707.92,228.29 L708.17,226.81 L708.42,225.33 L708.67,223.85 L708.92,222.37 L709.17,220.89 L709.42,219.41 L709.67,217.93 L709.91,216.45 L710.16,214.97 L710.41,213.49 L710.66,212.01 L710.91,210.53 L711.16,209.05 L711.40,207.57 L711.65,206.09 L711.90,204.61 L712.15,203.13 L712.39,201.65 L712.64,200.17 L712.89,198.69 L713.13,197.21 L713.38,195.73 L713.63,194.25 L713.87,192.77 L714.12,191.29 L714.37,189.81 L714.61,188.33 L714.86,186.85 L715.10,185.37 L715.35,183.89 L715.60,182.41 L715.84,180.93 L717.31,173.57" stroke-width="4.2" fill="none" stroke="#fff"/>
<line x1="291.00" y1="543.10" x2="489.00" y2="543.10" stroke-width="1.05" stroke-dasharray="9 3 2 3"/>
<path d="M69.53,550.38 L184,539.8 C197.5,538.6 209.1,550 209.1,564 L209.1,587.6" stroke-width="2.05" fill="none" />
<path d="M77.05,599.00 L137.79,593.36 L151.2,577.4 Q153.5,574.8 156.5,574.6 L159,574.4 Q160.2,574.4 160.2,575.6 L160.2,587.6" stroke-width="2.05" fill="none" />
<path d="M65.67,544.51 L8.72,549.80 Q6.23,550.03 6.46,552.52 L11.54,607.28 Q11.77,609.77 14.26,609.54 L71.22,604.26" stroke-width="2.05" fill="#fff" />
<path d="M65.38,543.54 Q65.16,541.15 68.35,540.85 Q71.63,540.55 71.85,542.94 L77.58,604.67 Q77.80,607.06 74.52,607.37 Q71.33,607.66 71.11,605.27 Z" stroke-width="2.05" fill="#fff" />
<line x1="-2.95" y1="581.01" x2="190.22" y2="563.09" stroke-width="1.05" stroke-dasharray="9 3 2 3"/>
<line x1="184.60" y1="557.50" x2="184.60" y2="655.00" stroke-width="1.05" stroke-dasharray="9 3 2 3"/>
<path d="M153.5,607.7 Q151.3,607.7 151.3,605.5 L151.3,590 Q151.3,587.7 153.6,587.7 L215,587.7 Q217.3,587.7 217.3,590 L217.3,605.5 Q217.3,607.7 215,607.7 Z" stroke-width="2.05" fill="#fff" />
<path d="M153,605.2 L216,605.2" stroke-width="1.4" fill="none" />
<path d="M158.8,605.2 L158.8,596 Q158.8,593.8 161.10000000000002,593.8 Q163.4,593.8 163.4,596 L163.4,605.2" stroke-width="1.6" fill="none" />
<path d="M181.9,605.2 L181.9,596 Q181.9,593.8 184.20000000000002,593.8 Q186.5,593.8 186.5,596 L186.5,605.2" stroke-width="1.6" fill="none" />
<path d="M206,605.2 L206,596 Q206,593.8 208.3,593.8 Q210.6,593.8 210.6,596 L210.6,605.2" stroke-width="1.6" fill="none" />
<line x1="184.60" y1="586.00" x2="184.60" y2="655.00" stroke-width="1.05" stroke-dasharray="9 3 2 3"/>
<path d="M155.2,609.2 L213.5,609.2 M156,611.6 L212.6,611.6" stroke-width="2.0" fill="none" />
<path d="M157,612.5 Q159.5,616 158.6,618.5 Q158,621 156.3,622.2 Q151.9,625 151.7,630 L151.3,648.3" stroke-width="2.05" fill="none" />
<path d="M211.6,612.5 Q210.3,616.5 212.5,618.2 Q214,619.6 217,619.6 L266,619.6" stroke-width="2.05" fill="none" />
<path d="M157,622.2 L190,622.2 Q197,622.2 202,620.8 Q207,619.6 215,619.6" stroke-width="2.05" fill="none" />
<rect x="147" y="648.5" width="184.5" height="6.9" stroke-width="1.6" fill="#fff"/>
<line x1="148.00" y1="652.30" x2="331.00" y2="652.30" stroke-width="3.2" />
<line x1="21.50" y1="463.00" x2="40.70" y2="639.00" stroke-width="1.05" />
<polygon points="30.30,546.90 22.48,522.20 32.62,521.10" fill="#1a1a1a" stroke="none"/>
<polygon points="37.20,607.90 45.02,632.60 34.88,633.70" fill="#1a1a1a" stroke="none"/>
<line x1="76.60" y1="458.00" x2="96.20" y2="634.00" stroke-width="1.05" />
<polygon points="86.40,547.20 78.52,522.52 88.66,521.39" fill="#1a1a1a" stroke="none"/>
<polygon points="91.90,600.60 99.78,625.28 89.64,626.41" fill="#1a1a1a" stroke="none"/>
<text transform="translate(18.30 495.00) rotate(-95.8) scale(1.0464 1)" x="0.02" y="0" font-size="21.4" text-anchor="middle" font-weight="normal" fill="#1a1a1a" stroke="none" >Ø50</text>
<text transform="translate(74.20 495.00) rotate(-95.8) scale(1.0464 1)" x="0.02" y="0" font-size="21.4" text-anchor="middle" font-weight="normal" fill="#1a1a1a" stroke="none" >Ø40</text>
<g transform="translate(671.7,115.8) rotate(11.3)">
<path d="M17.5,-35.4 L45.8,-32.6 L45.8,-29 L62.5,-29 L62.5,19.5 L46,19.5" stroke-width="2.05" fill="#fff" />
<path d="M45.8,-32.6 L45.8,24" stroke-width="2.05" fill="none" />
<rect x="62.6" y="-34" width="2.8" height="67" stroke-width="1.6" fill="#fff"/>
<path d="M52.5,-6.2 L61.5,-6.2 M52.5,6.5 L61.5,6.5" stroke-width="2.6" fill="none" />
<rect x="65.6" y="-4.5" width="4.2" height="10.5" rx="0.8" stroke-width="1.6" fill="#fff"/>
<path d="M11,50 L11,58 M17.6,34 Q30,24.5 44.5,31.8" stroke-width="2.05" fill="none" />
<rect x="49.5" y="36.4" width="12" height="12.5" stroke-width="2.05" fill="#fff"/>
<rect x="44.7" y="23" width="5.4" height="11.5" rx="2" stroke-width="1.7" fill="#fff"/>
<ellipse cx="55.7" cy="29.8" rx="5.8" ry="5.2" stroke-width="2.05" fill="#fff"/>
<rect x="8.3" y="-50" width="9.2" height="100" rx="1" stroke-width="2.05" fill="#fff"/>
<path d="M2.9,-48 L2.9,49 M5.9,-48.5 L5.9,49.5" stroke-width="2.1" fill="none" stroke="#2a2a2a"/>
<path d="M0,-49.8 L-20,-46.8 Q-25.5,-46 -26.8,-40 Q-32.7,-20 -32.7,0 Q-32.7,22 -28.5,42 Q-27,48 -21,48.6 L0,50 Z" stroke-width="2.6" fill="#fff" />
<path d="M-22.5,-44.5 Q-29.5,-20 -28.5,8 " stroke-width="1.6" fill="none" />
<path d="M-28.3,11.5 Q-20,11 -6.8,22.5 Q-5,24.5 -7.5,27 Q-13,33.5 -25.5,36 Q-28.5,25 -28.3,11.5 Z" stroke-width="2.05" fill="#fff" />
</g>
<line x1="622.50" y1="106.00" x2="796.00" y2="140.80" stroke-width="1.05" stroke-dasharray="9 3 2 3"/>
<line x1="728.25" y1="31.25" x2="628.25" y2="10.00" stroke-width="1.05" />
<polygon points="693.25,24.25 719.16,24.54 717.04,34.52" fill="#1a1a1a" stroke="none"/>
<polygon points="661.50,17.00 635.59,16.71 637.71,6.73" fill="#1a1a1a" stroke="none"/>
<line x1="661.90" y1="13.00" x2="651.40" y2="65.10" stroke-width="1.05" />
<line x1="693.80" y1="20.50" x2="684.00" y2="67.00" stroke-width="1.05" />
<text transform="translate(679.30 17.00) rotate(12) scale(1.2019 1)" x="-0.08" y="0" font-size="20.8" text-anchor="middle" font-weight="normal" fill="#1a1a1a" stroke="none" >26</text>
<line x1="607.00" y1="10.00" x2="571.40" y2="179.30" stroke-width="1.05" />
<polygon points="599.50,48.00 599.74,22.09 609.72,24.19" fill="#1a1a1a" stroke="none"/>
<polygon points="576.60,148.75 576.36,174.66 566.38,172.56" fill="#1a1a1a" stroke="none"/>
<line x1="595.50" y1="47.00" x2="671.50" y2="63.20" stroke-width="1.05" />
<line x1="570.50" y1="147.00" x2="634.50" y2="160.60" stroke-width="1.05" />
<text transform="translate(583.40 97.40) rotate(-77.6) scale(1.0658 1)" x="0.05" y="0" font-size="21" text-anchor="middle" font-weight="normal" fill="#1a1a1a" stroke="none" >Ø75</text>
<line x1="601.75" y1="116.60" x2="667.50" y2="116.60" stroke-width="1.05" />
</svg>
</body></html>
